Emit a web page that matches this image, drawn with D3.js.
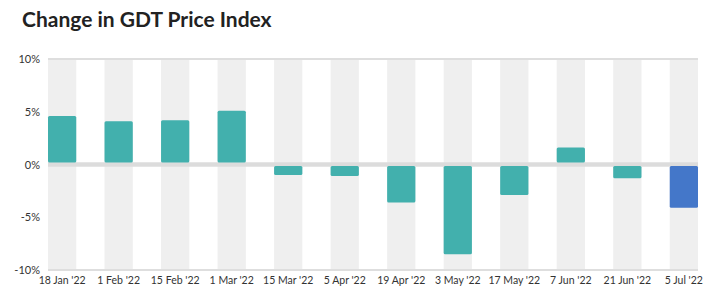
<!DOCTYPE html>
<html>
<head>
<meta charset="utf-8">
<script src="https://cdn.jsdelivr.net/npm/d3@7"></script>
<style>
  html, body { margin: 0; padding: 0; background: #fff; }
  svg { display: block; font-family: Lato, "Open Sans", sans-serif; }
</style>
</head>
<body>
<svg id="chart" width="725" height="292"></svg>
<script>
const categories = ["18 Jan '22", "1 Feb '22", "15 Feb '22", "1 Mar '22", "15 Mar '22", "5 Apr '22",
  "19 Apr '22", "3 May '22", "17 May '22", "7 Jun '22", "21 Jun '22", "5 Jul '22"];
const values = [4.6, 4.1, 4.2, 5.1, -1.0, -1.1, -3.6, -8.5, -2.9, 1.6, -1.3, -4.1];
const yTicks = [-10, -5, 0, 5, 10];
const titleText = "Change in GDT Price Index";

const svg = d3.select("#chart");
const margin = { left: 48, right: 27, top: 59, bottom: 22 };
const W = 725, H = 292;

const x = d3.scaleBand().domain(categories)
  .range([margin.left, W - margin.right])
  .paddingInner(0.5).paddingOuter(0);
const y = d3.scaleLinear().domain([-10, 10]).range([270, 59]);

svg.append("text")
  .attr("x", 22).attr("y", 27)
  .attr("font-size", 21).attr("font-weight", 700)
  .attr("fill", "#222")
  .text(titleText);

// background bands
svg.append("g").selectAll("rect").data(categories).join("rect")
  .attr("x", d => x(d)).attr("width", x.bandwidth())
  .attr("y", y(10)).attr("height", y(-10) - y(10))
  .attr("fill", "#efefef");

// gridlines
svg.append("g").selectAll("line").data([10, -10]).join("line")
  .attr("x1", margin.left).attr("x2", W - margin.right)
  .attr("y1", d => y(d)).attr("y2", d => y(d))
  .attr("stroke", "#dedede").attr("stroke-width", 2);

svg.append("line")
  .attr("x1", margin.left).attr("x2", W - margin.right)
  .attr("y1", y(0)).attr("y2", y(0))
  .attr("stroke", "#dcdcdc").attr("stroke-width", 4.5);

// bars
svg.append("g").selectAll("rect").data(values).join("rect")
  .attr("x", (d, i) => x(categories[i])).attr("width", x.bandwidth())
  .attr("y", d => d >= 0 ? y(d) : y(0) + 1.5)
  .attr("height", d => d >= 0 ? y(0) - 2 - y(d) : y(d) - y(0) - 1.5)
  .attr("rx", 1.5)
  .attr("fill", (d, i) => i === values.length - 1 ? "#4477c9" : "#42b0ad");

// y axis
const yAxis = d3.axisLeft(y).tickValues(yTicks).tickSize(0).tickPadding(0)
  .tickFormat(d => d + "%");
svg.append("g").attr("transform", `translate(40,0)`).call(yAxis)
  .call(g => g.select(".domain").remove())
  .call(g => g.selectAll("text").attr("font-size", 11).attr("fill", "#333")
    .attr("font-family", "Lato, sans-serif"));

// x axis
const xAxis = d3.axisBottom(x).tickSize(0).tickPadding(0);
svg.append("g").attr("transform", `translate(0,277)`).call(xAxis)
  .call(g => g.select(".domain").remove())
  .call(g => g.selectAll("text").attr("font-size", 10.5).attr("fill", "#333")
    .attr("font-family", "Lato, sans-serif"));
</script>
</body>
</html>
